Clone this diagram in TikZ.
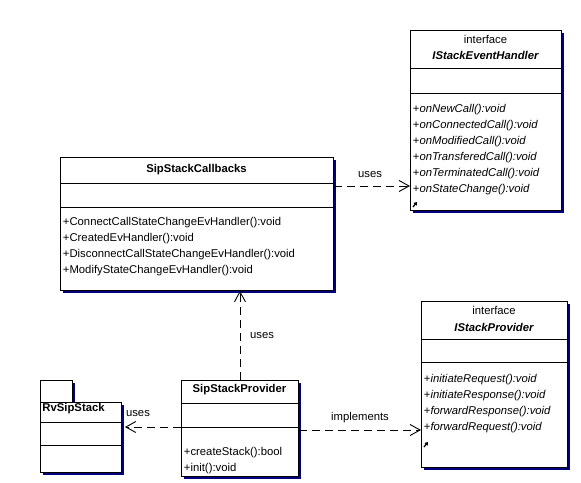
\documentclass[tikz,border=0pt]{standalone}
\usepackage{fontspec}
\setmainfont{Liberation Sans}
\usetikzlibrary{arrows.meta,positioning,shadows}
\definecolor{Shade}{HTML}{000080}

\begin{document}
\begin{tikzpicture}[x=1pt,y=-1pt, line width=0.9pt,
  every node/.style={font=\fontsize{11.3}{13}\selectfont, inner sep=0pt},
  cls/.style={draw, fill=white, anchor=north west, drop shadow={shadow xshift=3pt, shadow yshift=-3pt, fill=Shade, opacity=1}},
  mth/.style={anchor=west},
  ttl/.style={font=\fontsize{11.3}{13}\selectfont\bfseries},
  lbl/.style={font=\fontsize{11.3}{13}\selectfont},
  dep/.style={dash pattern=on 8pt off 5pt, -{Straight Barb[length=10pt,width=11pt]}}]
\useasboundingbox (0,0) rectangle (581,482);

% boxes
\node[cls, minimum width=151pt, minimum height=180pt] (evh) at (410,30) {};
\node[cls, minimum width=273pt, minimum height=133pt] (callbacks) at (60,157) {};
\node[cls, minimum width=146pt, minimum height=166pt] (iprov) at (421,301) {};
\node[cls, minimum width=117pt, minimum height=96pt] (prov) at (181,380) {};
\node[cls, minimum width=32pt, minimum height=22pt] (rvtab) at (40,380) {};
\node[cls, minimum width=81pt, minimum height=70pt] (rvs) at (40,402) {};

% compartments
\draw (evh.west |- 0,68) -- (evh.east |- 0,68);
\draw (evh.west |- 0,93) -- (evh.east |- 0,93);
\draw (callbacks.west |- 0,183) -- (callbacks.east |- 0,183);
\draw (callbacks.west |- 0,207) -- (callbacks.east |- 0,207);
\draw (iprov.west |- 0,339) -- (iprov.east |- 0,339);
\draw (iprov.west |- 0,362) -- (iprov.east |- 0,362);
\draw (prov.west |- 0,403) -- (prov.east |- 0,403);
\draw (prov.west |- 0,427) -- (prov.east |- 0,427);
\draw (rvs.west |- 0,422) -- (rvs.east |- 0,422);
\draw (rvs.west |- 0,445) -- (rvs.east |- 0,445);

% titles
\node (evhkind) at (485.5,39) {interface};
\node[ttl] (evhname) at (485.5,55) {\itshape IStackEventHandler};
\node[ttl] (cbname) at (196.5,170) {SipStackCallbacks};
\node (ipkind) at (494,310) {interface};
\node[ttl] (ipname) at (494,327) {\itshape IStackProvider};
\node[ttl] (provname) at (239.5,390) {SipStackProvider};
\node[ttl, anchor=west] (rvsname) at (42,409) {RvSipStack};

% operations
\foreach \m [count=\i] in {onNewCall, onConnectedCall, onModifiedCall, onTransferedCall, onTerminatedCall, onStateChange}
  \node[mth] (evhop\i) at (412.5,{94+16*\i}) {+\textit{\m():void}};
\node[mth] (cbop1) at (62.5,223) {+ConnectCallStateChangeEvHandler():void};
\node[mth] (cbop2) at (62.5,239) {+CreatedEvHandler():void};
\node[mth] (cbop3) at (62.5,255) {+DisconnectCallStateChangeEvHandler():void};
\node[mth] (cbop4) at (62.5,271) {+ModifyStateChangeEvHandler():void};
\foreach \m [count=\i] in {initiateRequest, initiateResponse, forwardResponse, forwardRequest}
  \node[mth] (ipop\i) at (423.5,{364+16*\i}) {+\textit{\m():void}};
\node[mth] (provop1) at (183.5,453) {+createStack():bool};
\node[mth] (provop2) at (183.5,469) {+init():void};

% more-items marks
\draw[line width=1.3pt, -{Triangle[length=3pt,width=4pt]}] (413,207) -- (417,202);
\draw[line width=1.3pt, -{Triangle[length=3pt,width=4pt]}] (424,447) -- (428,442);

% dependencies
\draw[dep] (callbacks.east |- 0,186) -- (evh.west |- 0,186);
\draw[dep] (prov.north) -- (prov.north |- callbacks.south);
\draw[dep] (prov.west |- 0,427) -- ([xshift=3pt]rvs.east |- 0,427);
\draw[dep] (prov.east |- 0,430) -- (iprov.west |- 0,430);
\node[lbl] (uses1) at (370,175) {uses};
\node[lbl] (uses2) at (262,336) {uses};
\node[lbl] (uses3) at (138,414) {uses};
\node[lbl] (impl) at (360,418) {implements};
\end{tikzpicture}
\end{document}
